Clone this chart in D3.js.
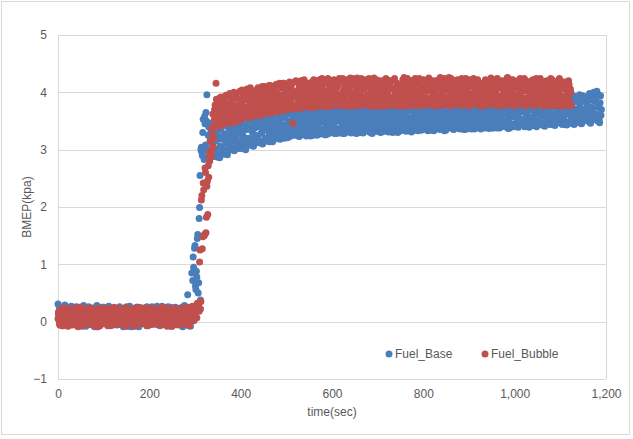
<!DOCTYPE html>
<html>
<head>
<meta charset="utf-8">
<script src="https://cdn.jsdelivr.net/npm/d3@7"></script>
<style>
body { margin: 0; background: #fff; }
text { font-family: Arial, "Liberation Sans", sans-serif; }
</style>
</head>
<body>
<svg id="chart" width="633" height="439"></svg>
<script>
// logger samples: "Even" arrays hold t = 0, 2, 4 ... s, "Odd" arrays t = 1, 3, 5 ... s

// BMEP (kpa), Fuel_Base, even seconds
var fuelBaseEven = [
	// idle, 0-282 s
	0.31, 0.05, 0.18, -0.03, 0.12, 0.24, 0.02, 0.15, 0.27, 0.08,
	0.19, -0.05, 0.11, 0.25, 0.04, 0.16, 0.22, -0.02, 0.13, 0.07,
	0.26, 0.1, -0.06, 0.18, 0.03, 0.21, 0.14, 0.06, 0.28, 0.0,
	0.12, 0.2, -0.04, 0.24, 0.09, 0.17, 0.01, 0.23, 0.11, 0.05,
	-0.09, 0.19, 0.13, 0.27, -0.08, 0.06, 0.22, 0.1, 0.16, 0.02,
	0.25, 0.08, 0.14, -0.03, 0.2, 0.11, 0.26, 0.04, 0.17, 0.09,
	0.0, 0.23, 0.12, 0.18, -0.05, 0.15, 0.07, 0.24, 0.1, 0.03,
	0.21, 0.14, -0.02, 0.19, 0.06, 0.26, 0.11, 0.01, 0.17, 0.08,
	-0.09, 0.13, -0.08, 0.22, 0.05, 0.16, 0.25, 0.02, 0.12, 0.19,
	0.07, 0.24, -0.03, 0.14, 0.1, 0.18, 0.03, 0.22, 0.23, 0.21,
	0.09, 0.15, 0.0, 0.26, 0.12, 0.06, 0.2, -0.04, 0.17, 0.11,
	0.24, 0.04, 0.16, 0.08, 0.27, -0.02, 0.13, 0.19, 0.05, 0.22,
	0.1, 0.01, 0.18, 0.25, 0.07, 0.14, -0.06, 0.2, 0.12, 0.03,
	0.23, 0.09, 0.16, -0.01, 0.21, 0.11, 0.06, 0.26, 0.13, 0.04,
	0.18, 0.08,
	// load step, 284-336 s
	0.47, 0.12, 0.2, -0.08, 0.15, 0.05, 1.13, 0.9, 1.33, 0.56,
	0.78, 1.52, 0.68, 1.99, 0.38, 3.04, 2.9, 3.53, 2.83, 3.45,
	3.65, 3.96, 3.0, 3.4, 2.95, 3.2, 2.88,
	// loaded, 338-1190 s
	3.1, 2.88, 3.42, 3.0, 3.3, 2.95, 3.5, 3.18, 2.86, 3.36,
	3.05, 3.48, 2.92, 3.25, 3.55, 3.12, 2.98, 3.4, 3.2, 3.52,
	3.0, 3.33, 3.56, 3.15, 2.98, 3.45, 3.22, 3.58, 3.08, 3.38,
	3.28, 3.02, 3.5, 3.18, 3.6, 3.1, 3.42, 3.04, 3.35, 3.55,
	3.2, 3.58, 3.08, 3.44, 3.3, 3.06, 3.62, 3.25, 3.5, 3.14,
	3.4, 3.12, 3.63, 3.28, 3.5, 3.1, 3.35, 3.58, 3.2, 3.46,
	3.15, 3.52, 3.3, 3.64, 3.22, 3.44, 3.14, 3.6, 3.38, 3.26,
	3.48, 3.2, 3.66, 3.34, 3.18, 3.55, 3.28, 3.42, 3.68, 3.22,
	3.36, 3.62, 3.21, 3.5, 3.3, 3.7, 3.24, 3.45, 3.58, 3.32,
	3.6, 3.25, 3.44, 3.7, 3.34, 3.23, 3.52, 3.4, 3.66, 3.28,
	3.46, 3.3, 3.68, 3.24, 3.56, 3.38, 3.72, 3.26, 3.5, 3.35,
	3.25, 3.54, 3.4, 3.7, 3.3, 3.62, 3.45, 3.27, 3.66, 3.36,
	3.58, 3.28, 3.48, 3.26, 3.72, 3.4, 3.55, 3.32, 3.64, 3.44,
	3.3, 3.68, 3.42, 3.56, 3.28, 3.74, 3.36, 3.5, 3.62, 3.29,
	3.5, 3.34, 3.72, 3.28, 3.6, 3.44, 3.3, 3.66, 3.4, 3.55,
	3.36, 3.58, 3.29, 3.7, 3.46, 3.32, 3.64, 3.52, 3.28, 3.75,
	3.62, 3.3, 3.48, 3.38, 3.74, 3.29, 3.56, 3.42, 3.68, 3.34,
	3.44, 3.7, 3.31, 3.6, 3.5, 3.28, 3.66, 3.38, 3.54, 3.32,
	3.58, 3.34, 3.76, 3.46, 3.3, 3.64, 3.4, 3.72, 3.52, 3.36,
	3.32, 3.62, 3.48, 3.31, 3.74, 3.42, 3.56, 3.35, 3.68, 3.5,
	3.7, 3.38, 3.54, 3.3, 3.66, 3.46, 3.33, 3.76, 3.44, 3.6,
	3.4, 3.64, 3.32, 3.58, 3.48, 3.72, 3.36, 3.52, 3.31, 3.68,
	3.56, 3.34, 3.76, 3.44, 3.62, 3.33, 3.5, 3.7, 3.38, 3.6,
	3.35, 3.66, 3.48, 3.78, 3.4, 3.56, 3.33, 3.64, 3.46, 3.72,
	3.62, 3.42, 3.34, 3.7, 3.52, 3.38, 3.76, 3.46, 3.58, 3.35,
	3.46, 3.74, 3.36, 3.56, 3.33, 3.66, 3.5, 3.4, 3.78, 3.6,
	3.38, 3.6, 3.72, 3.44, 3.35, 3.66, 3.52, 3.8, 3.42, 3.56,
	3.7, 3.36, 3.54, 3.64, 3.4, 3.76, 3.48, 3.35, 3.62, 3.5,
	3.44, 3.68, 3.37, 3.58, 3.78, 3.46, 3.6, 3.36, 3.72, 3.52,
	3.58, 3.4, 3.74, 3.5, 3.36, 3.66, 3.44, 3.8, 3.55, 3.38,
	3.42, 3.7, 3.56, 3.37, 3.64, 3.8, 3.48, 3.6, 3.38, 3.74,
	3.66, 3.46, 3.38, 3.78, 3.54, 3.4, 3.7, 3.5, 3.82, 3.44,
	3.5, 3.76, 3.42, 3.6, 3.37, 3.68, 3.56, 3.45, 3.8, 3.62,
	3.4, 3.64, 3.82, 3.48, 3.58, 3.39, 3.74, 3.52, 3.66, 3.44,
	3.72, 3.5, 3.4, 3.84, 3.6, 3.46, 3.68, 3.39, 3.56, 3.78,
	3.54, 3.42, 3.76, 3.62, 3.86, 3.4, 3.66, 3.5, 3.8, 3.45,
	3.6, 3.84, 3.46, 3.7, 3.41, 3.88, 3.56, 3.74, 3.5, 3.64,
	3.44, 3.78, 3.62, 3.9, 3.52, 3.42, 3.82, 3.58, 3.7, 3.48,
	3.86, 3.54, 3.68, 3.44, 3.92, 3.6, 3.5, 3.8, 3.43, 3.74,
	3.62, 3.9, 3.46, 3.76, 3.56, 3.94, 3.44, 3.7, 3.84, 3.52,
	3.48, 3.72, 3.96, 3.58, 3.45, 3.86, 3.64, 3.52, 3.92, 3.68,
	3.8, 3.5, 3.66, 3.98, 3.46, 3.74, 3.58, 3.9, 3.54, 3.84,
	3.62, 4.02, 3.5, 3.78, 3.47, 3.94, 3.7
];

// BMEP (kpa), Fuel_Base, odd seconds
var fuelBaseOdd = [
	// idle, 1-283 s
	0.12, 0.26, -0.01, 0.2, 0.08, -0.07, 0.17, 0.29, 0.04, 0.14,
	0.23, 0.06, 0.16, -0.04, 0.27, 0.1, 0.01, 0.21, 0.13, -0.06,
	0.09, 0.18, 0.25, 0.03, 0.15, -0.02, 0.22, 0.11, 0.05, 0.19,
	-0.08, 0.14, 0.07, 0.26, 0.17, 0.0, 0.2, 0.12, -0.05, 0.24,
	0.06, 0.16, 0.28, -0.09, 0.1, 0.21, 0.02, 0.13, 0.25, 0.08,
	0.18, -0.03, 0.11, 0.22, 0.04, 0.27, 0.15, -0.07, 0.19, 0.07,
	0.12, 0.24, 0.01, 0.16, -0.06, 0.2, 0.09, 0.26, 0.03, 0.14,
	0.23, -0.09, 0.1, 0.17, 0.05, 0.21, -0.08, 0.13, 0.27, 0.0,
	0.15, 0.06, 0.22, -0.04, 0.18, 0.11, 0.25, 0.02, -0.09, 0.2,
	0.08, 0.24, 0.14, 0.19, 0.22, 0.04, 0.16, 0.26, -0.03, 0.12,
	0.2, 0.07, -0.05, 0.15, 0.23, 0.1, 0.01, 0.18, 0.27, 0.05,
	0.13, -0.07, 0.21, 0.09, 0.16, 0.24, 0.03, -0.02, 0.19, 0.11,
	0.26, 0.06, 0.14, -0.08, 0.22, 0.17, 0.0, 0.12, 0.25, 0.08,
	0.18, -0.04, 0.1, 0.23, 0.05, 0.15, -0.09, 0.2, 0.28, 0.02,
	0.14, -0.06,
	// load step, 285-335 s
	0.1, 0.22, 0.02, 0.16, 0.85, 0.72, 0.95, 1.28, 0.62, 0.88,
	1.45, 0.5, 1.8, 2.55, 3.0, 2.95, 3.3, 2.98, 3.58, 3.08,
	3.5, 2.86, 3.25, 3.46, 2.9, 3.32,
	// loaded, 337-1189 s
	3.3, 3.02, 2.9, 3.46, 3.15, 3.38, 2.87, 3.24, 3.5, 3.06,
	3.35, 2.94, 3.18, 3.53, 3.0, 3.44, 3.28, 2.91, 3.1, 3.47,
	3.26, 3.52, 3.05, 3.4, 2.99, 3.18, 3.57, 3.3, 3.02, 3.48,
	3.12, 3.45, 3.58, 3.03, 3.32, 3.22, 3.55, 3.0, 3.4, 3.15,
	3.52, 3.1, 3.36, 3.6, 3.18, 3.07, 3.48, 3.38, 3.12, 3.56,
	3.22, 3.55, 3.16, 3.44, 3.62, 3.3, 3.13, 3.5, 3.38, 3.6,
	3.46, 3.2, 3.58, 3.14, 3.36, 3.64, 3.28, 3.5, 3.18, 3.42,
	3.3, 3.6, 3.24, 3.5, 3.66, 3.19, 3.44, 3.58, 3.34, 3.2,
	3.55, 3.28, 3.44, 3.68, 3.22, 3.38, 3.62, 3.3, 3.5, 3.7,
	3.34, 3.5, 3.7, 3.26, 3.6, 3.45, 3.24, 3.66, 3.32, 3.56,
	3.62, 3.26, 3.52, 3.4, 3.7, 3.3, 3.58, 3.44, 3.24, 3.66,
	3.42, 3.68, 3.28, 3.56, 3.46, 3.25, 3.72, 3.38, 3.6, 3.5,
	3.3, 3.66, 3.52, 3.36, 3.6, 3.26, 3.7, 3.46, 3.28, 3.62,
	3.56, 3.34, 3.72, 3.46, 3.62, 3.38, 3.28, 3.68, 3.5, 3.74,
	3.32, 3.6, 3.4, 3.7, 3.52, 3.28, 3.74, 3.46, 3.58, 3.36,
	3.64, 3.42, 3.54, 3.3, 3.72, 3.58, 3.4, 3.29, 3.68, 3.48,
	3.4, 3.72, 3.56, 3.3, 3.62, 3.46, 3.76, 3.34, 3.52, 3.66,
	3.58, 3.36, 3.74, 3.46, 3.3, 3.64, 3.52, 3.76, 3.4, 3.62,
	3.44, 3.68, 3.32, 3.58, 3.74, 3.5, 3.31, 3.6, 3.42, 3.7,
	3.64, 3.4, 3.76, 3.54, 3.36, 3.66, 3.46, 3.72, 3.3, 3.58,
	3.36, 3.56, 3.66, 3.44, 3.76, 3.32, 3.62, 3.5, 3.7, 3.4,
	3.6, 3.46, 3.72, 3.38, 3.54, 3.33, 3.68, 3.44, 3.76, 3.56,
	3.4, 3.7, 3.52, 3.62, 3.36, 3.78, 3.46, 3.58, 3.66, 3.34,
	3.68, 3.44, 3.58, 3.36, 3.72, 3.5, 3.62, 3.42, 3.34, 3.76,
	3.46, 3.7, 3.56, 3.33, 3.64, 3.76, 3.4, 3.6, 3.5, 3.72,
	3.62, 3.38, 3.7, 3.52, 3.42, 3.78, 3.34, 3.58, 3.66, 3.44,
	3.52, 3.76, 3.4, 3.64, 3.58, 3.36, 3.7, 3.46, 3.8, 3.62,
	3.44, 3.62, 3.78, 3.38, 3.56, 3.68, 3.35, 3.72, 3.48, 3.6,
	3.66, 3.52, 3.4, 3.74, 3.36, 3.62, 3.8, 3.48, 3.56, 3.42,
	3.46, 3.72, 3.62, 3.38, 3.76, 3.54, 3.4, 3.68, 3.6, 3.78,
	3.6, 3.44, 3.76, 3.52, 3.4, 3.7, 3.62, 3.38, 3.78, 3.48,
	3.54, 3.74, 3.44, 3.64, 3.8, 3.38, 3.58, 3.76, 3.42, 3.66,
	3.7, 3.4, 3.62, 3.78, 3.48, 3.56, 3.38, 3.72, 3.44, 3.82,
	3.58, 3.78, 3.44, 3.7, 3.4, 3.62, 3.84, 3.46, 3.54, 3.76,
	3.46, 3.66, 3.78, 3.52, 3.42, 3.82, 3.58, 3.7, 3.86, 3.44,
	3.7, 3.86, 3.48, 3.58, 3.42, 3.76, 3.62, 3.84, 3.44, 3.68,
	3.48, 3.66, 3.8, 3.42, 3.58, 3.72, 3.44, 3.9, 3.62, 3.54,
	3.68, 3.5, 3.86, 3.44, 3.74, 3.6, 3.92, 3.46, 3.64, 3.8,
	3.5, 3.72, 3.58, 3.9, 3.46, 3.66, 3.84, 3.44, 3.62, 3.76,
	3.8, 3.48, 3.64, 3.58, 3.88, 3.5, 3.72, 3.46, 3.92, 3.66,
	3.6, 3.88, 3.5, 3.76, 3.66, 3.46, 3.94, 3.7, 3.56, 3.84,
	3.64, 3.92, 3.56, 3.72, 3.48, 3.86, 3.7, 3.52, 4.0, 3.6,
	3.88, 3.56, 3.74, 3.96, 3.52, 3.82, 3.6
];

// BMEP (kpa), Fuel_Bubble, even seconds
var fuelBubbleEven = [
	// idle, 0-306 s
	0.05, 0.18, -0.06, 0.12, 0.22, 0.01, 0.15, -0.02, 0.2, 0.08,
	0.14, -0.08, 0.23, 0.06, 0.1, 0.19, -0.04, 0.16, 0.03, 0.21,
	0.09, 0.24, -0.09, 0.13, 0.04, 0.17, 0.0, 0.22, 0.11, -0.03,
	0.18, 0.07, 0.14, 0.23, -0.05, 0.12, 0.2, 0.02, 0.16, 0.08,
	0.21, -0.01, 0.1, 0.17, 0.05, 0.24, -0.07, 0.13, 0.19, 0.03,
	0.11, 0.2, 0.06, -0.04, 0.15, 0.22, 0.0, 0.18, 0.09, 0.14,
	-0.06, 0.16, 0.23, 0.04, 0.12, -0.02, 0.19, 0.07, 0.21, 0.1,
	0.02, 0.17, 0.13, 0.24, -0.08, 0.08, 0.2, 0.05, 0.15, -0.03,
	0.22, 0.11, 0.01, 0.18, 0.14, -0.05, 0.23, 0.09, 0.06, 0.19,
	0.12, -0.01, 0.2, 0.04, 0.16, 0.24, 0.07, -0.07, 0.13, 0.1,
	0.18, 0.03, 0.22, 0.11, -0.04, 0.15, 0.08, 0.21, 0.0, 0.17,
	0.06, 0.23, 0.12, -0.06, 0.19, 0.09, 0.14, 0.02, 0.24, 0.1,
	-0.02, 0.16, 0.05, 0.2, 0.13, -0.08, 0.18, 0.07, 0.22, 0.11,
	0.04, 0.21, 0.15, 0.0, 0.24, 0.08, -0.05, 0.17, 0.12, 0.19,
	0.09, 0.23, -0.03, 0.14, 0.06, 0.2, 0.11, 0.27, 0.16, 0.02,
	0.18, 0.25, 0.07, 0.22,
	// load step, 308-348 s
	0.3, 1.04, 0.22, 2.12, 1.27, 2.42, 1.5, 2.68, 1.55, 2.36,
	1.87, 2.52, 2.8, 3.0, 2.87, 3.28, 3.05, 3.52, 3.78, 4.16,
	3.4,
	// loaded, 350-1124 s
	3.62, 3.42, 3.9, 3.55, 3.75, 3.45, 3.85, 3.5, 3.7, 3.95,
	3.48, 3.8, 3.6, 3.98, 3.52, 3.72, 3.46, 3.88, 3.66, 3.56,
	3.92, 3.54, 3.7, 3.5, 4.02, 3.64, 3.82, 3.58, 3.96, 3.74,
	3.6, 3.86, 4.06, 3.56, 3.76, 3.94, 3.66, 4.0, 3.58, 3.8,
	3.98, 3.62, 3.84, 3.7, 4.08, 3.6, 3.9, 3.76, 4.02, 3.66,
	3.72, 4.1, 3.64, 3.88, 3.96, 3.68, 4.12, 3.8, 3.63, 4.04,
	3.9, 3.66, 4.06, 3.76, 4.14, 3.7, 3.98, 3.84, 3.67, 4.1,
	3.76, 4.16, 3.86, 3.7, 4.04, 3.94, 3.72, 4.12, 3.82, 4.0,
	4.08, 3.74, 3.46, 3.92, 4.18, 3.78, 4.0, 3.71, 3.88, 4.14,
	3.8, 4.2, 3.96, 3.73, 4.1, 3.86, 4.04, 3.76, 4.16, 3.9,
	4.0, 3.74, 3.88, 4.18, 3.8, 4.22, 3.94, 3.75, 4.06, 3.84,
	3.76, 4.12, 3.98, 3.86, 4.24, 3.78, 4.02, 3.92, 3.75, 4.16,
	4.2, 3.82, 4.06, 3.76, 3.96, 4.14, 3.88, 4.22, 3.78, 4.0,
	3.86, 4.1, 3.77, 4.24, 3.94, 3.8, 4.18, 4.02, 3.76, 3.9,
	4.16, 3.78, 3.98, 4.06, 3.84, 4.25, 3.76, 3.92, 4.12, 3.82,
	3.8, 4.2, 3.9, 3.76, 4.08, 4.0, 3.85, 4.24, 3.78, 4.04,
	4.12, 3.88, 4.22, 3.8, 3.96, 3.77, 4.16, 3.92, 4.06, 3.75,
	3.94, 4.25, 3.78, 4.1, 3.86, 4.02, 3.76, 4.2, 3.84, 3.98,
	4.18, 3.82, 4.0, 3.76, 4.24, 3.9, 4.08, 3.79, 4.14, 3.88,
	3.77, 4.06, 3.92, 4.22, 3.84, 3.78, 4.16, 3.96, 4.04, 3.8,
	4.1, 3.86, 3.76, 4.02, 4.26, 3.9, 3.8, 4.18, 3.94, 4.06,
	3.84, 4.2, 3.98, 3.78, 4.12, 3.88, 4.24, 3.76, 4.0, 3.92,
	4.14, 3.8, 4.06, 3.94, 3.77, 4.22, 3.86, 4.1, 3.82, 4.02,
	3.9, 4.25, 3.78, 4.04, 4.16, 3.84, 3.96, 3.76, 4.2, 3.88,
	4.08, 3.82, 4.22, 3.92, 3.77, 4.12, 4.0, 3.86, 4.24, 3.8,
	3.78, 4.14, 3.9, 4.26, 3.84, 4.02, 3.76, 4.18, 3.94, 4.06,
	4.2, 3.86, 4.04, 3.8, 4.12, 3.96, 3.77, 4.24, 3.88, 4.0,
	3.82, 4.16, 3.94, 4.08, 3.76, 4.22, 3.9, 3.84, 4.1, 3.98,
	4.24, 3.8, 4.02, 3.88, 4.18, 3.78, 4.06, 3.94, 3.76, 4.14,
	3.9, 4.1, 3.77, 4.22, 3.96, 3.84, 4.16, 4.0, 3.8, 4.25,
	4.04, 3.86, 4.2, 3.78, 4.08, 3.92, 4.24, 3.82, 4.12, 3.76,
	3.94, 4.18, 3.84, 4.02, 3.77, 4.14, 3.9, 4.26, 3.8, 4.06,
	4.12, 3.78, 4.0, 4.22, 3.88, 3.76, 4.16, 3.96, 4.08, 3.82,
	3.86, 4.24, 3.92, 3.8, 4.1, 4.02, 3.76, 4.2, 3.9, 4.04,
	4.18, 3.82, 4.06, 3.94, 3.77, 4.22, 3.88, 4.12, 3.78, 4.0,
	3.8, 4.14, 3.96, 4.24, 3.84, 4.04, 3.76, 4.18, 3.92, 4.08,
	4.2, 3.9, 3.76, 4.1, 3.98, 3.82, 4.22, 3.86, 4.04, 3.77,
	3.94, 4.16, 3.8, 4.02, 4.24, 3.76, 4.08, 3.88, 4.18, 3.84,
	3.76, 4.12, 3.96, 3.78, 4.2, 3.86, 4.06, 3.77
];

// BMEP (kpa), Fuel_Bubble, odd seconds
var fuelBubbleOdd = [
	// idle, 1-305 s
	0.16, -0.03, 0.21, 0.09, -0.07, 0.14, 0.24, 0.04, 0.12, -0.01,
	0.19, 0.07, 0.02, 0.23, 0.11, -0.06, 0.17, 0.08, 0.22, 0.0,
	0.13, -0.04, 0.2, 0.06, 0.25, 0.1, -0.08, 0.15, 0.03, 0.18,
	0.01, 0.22, 0.09, -0.02, 0.16, 0.12, 0.24, -0.06, 0.07, 0.2,
	0.05, 0.13, -0.09, 0.19, 0.1, 0.23, 0.02, 0.15, -0.03, 0.21,
	0.17, 0.04, 0.24, 0.08, -0.07, 0.12, 0.19, 0.01, 0.22, 0.06,
	0.14, 0.25, -0.01, 0.09, 0.18, 0.03, 0.23, -0.05, 0.11, 0.16,
	0.2, -0.06, 0.07, 0.13, 0.24, 0.0, 0.17, 0.1, -0.02, 0.21,
	0.05, 0.15, 0.23, -0.08, 0.12, 0.19, 0.03, 0.08, 0.25, 0.14,
	-0.04, 0.22, 0.1, 0.17, 0.01, 0.2, 0.06, 0.13, -0.07, 0.24,
	0.11, 0.04, 0.19, -0.01, 0.16, 0.23, 0.08, 0.14, -0.05, 0.21,
	0.02, 0.18, 0.12, 0.25, -0.03, 0.09, 0.2, 0.05, 0.15, -0.08,
	0.22, 0.07, 0.13, 0.0, 0.19, 0.24, -0.02, 0.11, 0.17, 0.06,
	0.14, -0.06, 0.21, 0.09, 0.03, 0.23, 0.16, -0.04, 0.12, 0.2,
	0.05, 0.25, 0.1, -0.07, 0.18, 0.08, 0.22, 0.01, 0.15, 0.24,
	0.11, 0.19, 0.32,
	// load step, 307-347 s
	0.26, 0.18, 1.25, 0.35, 2.2, 1.48, 2.3, 1.52, 2.6, 1.82,
	2.45, 2.72, 2.9, 3.15, 2.95, 3.38, 3.62, 3.2, 3.7, 3.48,
	3.88,
	// loaded, 349-1123 s
	3.5, 3.82, 3.44, 3.68, 3.92, 3.58, 3.42, 3.78, 3.64, 3.48,
	3.7, 3.5, 3.92, 3.62, 3.47, 3.84, 3.56, 3.76, 4.0, 3.52,
	3.6, 3.98, 3.78, 3.52, 3.88, 3.68, 3.54, 4.04, 3.72, 3.62,
	3.9, 3.68, 3.58, 3.98, 3.72, 3.56, 4.08, 3.84, 3.64, 3.94,
	3.7, 3.94, 3.6, 4.04, 3.8, 3.66, 3.96, 3.59, 3.86, 4.1,
	3.98, 3.76, 3.84, 3.64, 4.06, 3.9, 3.7, 3.96, 4.12, 3.74,
	3.78, 4.0, 3.68, 3.92, 3.82, 4.12, 3.66, 3.88, 4.16, 3.74,
	4.08, 3.82, 3.96, 4.16, 3.74, 3.88, 3.69, 4.02, 3.92, 4.18,
	3.84, 4.12, 3.72, 4.02, 3.96, 3.78, 4.2, 3.9, 3.74, 4.06,
	4.14, 3.88, 4.04, 3.74, 3.96, 4.22, 3.82, 3.92, 4.08, 3.76,
	3.92, 4.16, 3.8, 4.08, 3.73, 3.98, 4.12, 3.86, 4.2, 3.78,
	4.06, 3.84, 4.22, 3.94, 3.76, 4.1, 3.9, 4.18, 3.82, 4.0,
	3.88, 4.24, 3.8, 4.02, 4.16, 3.76, 3.94, 4.1, 3.86, 4.2,
	4.04, 3.78, 4.14, 3.9, 4.2, 3.84, 3.96, 4.24, 3.8, 4.08,
	3.92, 4.22, 3.84, 4.1, 3.76, 4.18, 4.0, 3.8, 4.24, 3.96,
	4.12, 3.86, 4.02, 4.25, 3.9, 3.78, 4.14, 3.94, 4.2, 3.82,
	3.84, 4.04, 3.92, 4.2, 3.78, 4.1, 4.24, 3.86, 3.98, 4.16,
	4.08, 3.82, 4.16, 3.9, 4.22, 3.96, 3.8, 4.12, 4.04, 3.76,
	3.92, 4.2, 3.86, 4.1, 3.8, 4.04, 4.22, 3.96, 3.78, 4.12,
	4.2, 3.9, 4.06, 3.8, 4.24, 4.0, 3.88, 4.14, 3.76, 3.98,
	3.82, 4.14, 3.98, 4.22, 3.88, 4.08, 3.76, 4.02, 4.24, 3.9,
	4.1, 3.78, 4.2, 3.94, 3.84, 4.16, 4.04, 3.8, 3.96, 4.22,
	3.96, 4.24, 3.84, 4.0, 4.18, 3.78, 4.12, 3.92, 4.2, 3.86,
	4.16, 3.82, 4.08, 3.9, 3.8, 4.2, 3.98, 4.12, 3.86, 4.04,
	3.94, 4.18, 3.8, 4.06, 4.26, 3.88, 3.96, 4.14, 3.78, 4.1,
	4.2, 3.92, 4.04, 3.82, 4.12, 3.98, 4.24, 3.86, 4.0, 3.8,
	3.88, 4.1, 3.94, 4.22, 3.84, 4.04, 4.16, 3.78, 4.08, 3.96,
	4.06, 3.8, 4.24, 3.92, 4.14, 3.86, 3.98, 4.2, 3.78, 4.12,
	3.96, 4.18, 3.84, 4.08, 3.92, 4.22, 3.82, 4.02, 4.16, 3.88,
	4.12, 3.82, 4.04, 3.96, 4.2, 3.78, 4.1, 3.9, 4.06, 3.86,
	3.88, 4.16, 3.96, 4.22, 3.84, 4.02, 3.94, 4.18, 3.8, 4.1,
	4.08, 3.86, 4.2, 3.92, 4.12, 3.8, 4.04, 3.96, 4.24, 3.84,
	3.92, 4.22, 3.86, 4.06, 3.98, 4.18, 3.82, 4.1, 3.94, 4.2,
	4.14, 3.8, 4.0, 4.2, 3.9, 4.08, 4.24, 3.86, 4.04, 3.82,
	3.9, 4.1, 3.96, 3.84, 4.2, 4.02, 3.8, 4.14, 3.92, 4.24,
	4.06, 3.88, 4.22, 3.92, 4.08, 3.82, 4.16, 4.0, 3.86, 4.12,
	3.84, 4.18, 3.94, 4.06, 3.8, 4.24, 3.9, 4.02, 4.14, 3.88,
	4.1, 3.86, 4.02, 4.2, 3.82, 3.96, 4.16, 3.9, 4.06, 3.8,
	3.92, 4.18, 3.8, 4.04, 3.88, 4.14, 3.78, 4.0
];

var seriesNames = ["Fuel_Base", "Fuel_Bubble"];
var seriesColors = ["#4A7EBB", "#C0504D"];
var xTicks = [0, 200, 400, 600, 800, 1000, 1200];
var yTicks = [-1, 0, 1, 2, 3, 4, 5];

// pair each reading with its time stamp
function samples(even, odd) {
	var pts = even.map(function(v, i) { return {t: i * 2, v: v}; });
	odd.forEach(function(v, i) { pts.push({t: i * 2 + 1, v: v}); });
	return pts;
}
var series = [samples(fuelBaseEven, fuelBaseOdd), samples(fuelBubbleEven, fuelBubbleOdd)];

var svg = d3.select("#chart");
var plot = {left: 58, right: 606, top: 35, bottom: 379};

// chart border
svg.append("rect")
	.attr("x", 1.5)
	.attr("y", 1.5)
	.attr("width", 628)
	.attr("height", 433)
	.attr("fill", "#fff")
	.attr("stroke", "#d9d9d9");

var x = d3.scaleLinear().domain([0, 1200]).range([plot.left, plot.right]);
var y = d3.scaleLinear().domain([-1, 5]).range([plot.bottom, plot.top]);

// gridlines
var grid = svg.append("g")
	.attr("transform", "translate(" + plot.left + ",0)")
	.call(d3.axisLeft(y).tickValues(yTicks).tickSize(-(plot.right - plot.left)).tickFormat(""));
grid.select(".domain").remove();
grid.selectAll("line").attr("stroke", "#d9d9d9").attr("shape-rendering", "crispEdges");

// plot area sides
[plot.left, plot.right].forEach(function(px) {
	svg.append("line")
		.attr("x1", px).attr("x2", px)
		.attr("y1", plot.top).attr("y2", plot.bottom)
		.attr("stroke", "#d9d9d9")
		.attr("shape-rendering", "crispEdges");
});

// axis labels
var xAxis = svg.append("g")
	.attr("transform", "translate(0," + plot.bottom + ")")
	.call(d3.axisBottom(x).tickValues(xTicks).tickSize(0).tickPadding(10).tickFormat(d3.format(",")));
var yAxis = svg.append("g")
	.attr("transform", "translate(" + plot.left + ",0)")
	.call(d3.axisLeft(y).tickValues(yTicks).tickSize(0).tickPadding(11).tickFormat(d3.format("d")));
[xAxis, yAxis].forEach(function(ax) {
	ax.select(".domain").remove();
	ax.selectAll("text")
		.attr("fill", "#595959")
		.style("font-size", "12px")
		.style("font-family", "Arial, 'Liberation Sans', sans-serif");
});

// points, base first so bubble sits on top
series.forEach(function(pts, s) {
	svg.append("g")
		.selectAll("circle")
		.data(pts)
		.enter().append("circle")
		.attr("cx", function(d) { return x(d.t); })
		.attr("cy", function(d) { return y(d.v); })
		.attr("r", 3.5)
		.attr("fill", seriesColors[s]);
});

// axis titles
svg.append("text")
	.attr("x", (plot.left + plot.right) / 2)
	.attr("y", 416)
	.attr("text-anchor", "middle")
	.attr("fill", "#595959")
	.style("font-size", "12px")
	.text("time(sec)");

svg.append("text")
	.attr("transform", "translate(31," + (plot.top + plot.bottom) / 2 + ") rotate(-90)")
	.attr("text-anchor", "middle")
	.attr("fill", "#595959")
	.style("font-size", "12px")
	.text("BMEP(kpa)");

// legend
var legend = svg.selectAll(".swatch")
	.data(seriesNames)
	.enter().append("g")
	.attr("class", "swatch")
	.attr("transform", function(d, i) {
		return "translate(" + (389 + i * 96) + ",354)";
	});

legend.append("circle")
	.attr("r", 3.5)
	.attr("fill", function(d, i) { return seriesColors[i]; });

legend.append("text")
	.attr("x", 6)
	.attr("y", 4)
	.attr("fill", "#595959")
	.style("font-size", "12px")
	.text(function(d) { return d; });
</script>
</body>
</html>
